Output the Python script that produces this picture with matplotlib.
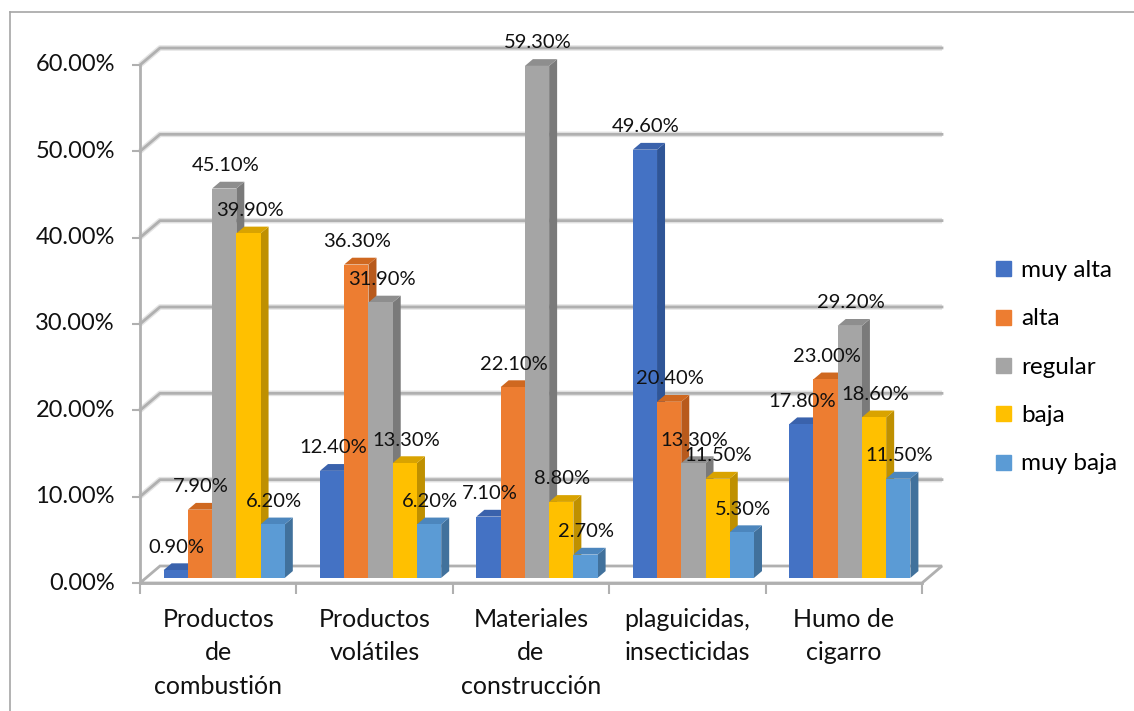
import numpy as np
import matplotlib.pyplot as plt
from matplotlib.patches import Polygon
from matplotlib.lines import Line2D
from matplotlib import markers

plt.rcParams['font.family'] = ['Lato', 'DejaVu Sans']

# --- data ---
categories = ["Productos\nde\ncombustión", "Productos\nvolátiles",
              "Materiales\nde\nconstrucción", "plaguicidas,\ninsecticidas",
              "Humo de\ncigarro"]
series_names = ["muy alta", "alta", "regular", "baja", "muy baja"]
muy_alta = [0.9, 12.4, 7.1, 49.6, 17.8]
alta = [7.9, 36.3, 22.1, 20.4, 23.0]
regular = [45.1, 31.9, 59.3, 13.3, 29.2]
baja = [39.9, 13.3, 8.8, 11.5, 18.6]
muy_baja = [6.2, 6.2, 2.7, 5.3, 11.5]
y_ticks = [0, 10, 20, 30, 40, 50, 60]

series = [muy_alta, alta, regular, baja, muy_baja]
front_colors = ['#4472C4', '#ED7D31', '#A5A5A5', '#FFC000', '#5B9BD5']
side_colors = ['#2F5597', '#B85A1C', '#7A7A7A', '#BF9000', '#41719C']
top_colors = ['#3A62AC', '#CF6820', '#8E8E8E', '#D9A300', '#4C86BD']

GRID = '#B0B0B0'
TEXT = '#111111'
DEPTH_PX = (20, 17)      # perspective offset of the back wall
BAR_FRONT, BAR_BACK = 0.3, 0.7
BAR_W = 0.155

fig = plt.figure(figsize=(11.34, 7.11), dpi=100)
ax = fig.add_axes([140 / 1134, 128 / 711, 782 / 1134, 518 / 711])
ax.set_xlim(0, len(categories))
ax.set_ylim(0, 60)
ax.axis('off')

# depth vector in data units
px_x = ax.bbox.width / len(categories)
px_y = ax.bbox.height / 60
ddx, ddy = DEPTH_PX[0] / px_x, DEPTH_PX[1] / px_y
n_cat = len(categories)

# floor
floor = Polygon([(0, 0), (n_cat, 0), (n_cat + ddx, ddy), (ddx, ddy)],
                closed=True, facecolor='white', edgecolor=GRID, lw=2,
                clip_on=False, zorder=1)
ax.add_patch(floor)

# back wall gridlines with the left wall diagonals
for v in y_ticks[1:]:
    ax.plot([0, ddx, n_cat + ddx], [v, v + ddy, v + ddy], color='#E3E3E3',
            lw=4, clip_on=False, zorder=0.5, solid_capstyle='butt')
    ax.plot([0, ddx, n_cat + ddx], [v, v + ddy, v + ddy], color=GRID,
            lw=2, clip_on=False, zorder=1)

# front axes
ax.plot([0, 0], [0, 60], color=GRID, lw=2, clip_on=False, zorder=1)
ax.plot([0, n_cat], [0, 0], color=GRID, lw=2, clip_on=False, zorder=1)
ax.plot([0] * len(y_ticks), y_ticks, ls='none', marker=markers.TICKLEFT,
        markersize=6, mew=1.5, color=GRID, clip_on=False)
ax.plot(np.arange(n_cat + 1), [0] * (n_cat + 1), ls='none',
        marker=markers.TICKDOWN, markersize=8, mew=1.5, color=GRID,
        clip_on=False)

for v in y_ticks:
    ax.annotate(f"{v:.2f}%", (0, v), xytext=(-25, 0), textcoords='offset pixels',
                ha='right', va='center', fontsize=17, color=TEXT)

for c, name in enumerate(categories):
    ax.annotate(name, (c + 0.5, 0), xytext=(0, -25), textcoords='offset pixels',
                ha='center', va='top', fontsize=18, color=TEXT,
                linespacing=1.55)

# 3D-looking bars
gap = (1 - len(series) * BAR_W) / 2
fx, fy = BAR_FRONT * ddx, BAR_FRONT * ddy
bx, by = BAR_BACK * ddx, BAR_BACK * ddy
z = 2
for c in range(n_cat):
    for i, vals in enumerate(series):
        h = vals[c]
        x0 = c + gap + i * BAR_W + fx
        x1 = x0 + BAR_W
        sx, sy = bx - fx, by - fy
        front = Polygon([(x0, fy), (x1, fy), (x1, h + fy), (x0, h + fy)],
                        facecolor=front_colors[i], edgecolor='none',
                        clip_on=False, zorder=z)
        side = Polygon([(x1, fy), (x1 + sx, fy + sy), (x1 + sx, h + fy + sy),
                        (x1, h + fy)],
                       facecolor=side_colors[i], edgecolor='none',
                       clip_on=False, zorder=z)
        top = Polygon([(x0, h + fy), (x1, h + fy), (x1 + sx, h + fy + sy),
                       (x0 + sx, h + fy + sy)],
                      facecolor=top_colors[i], edgecolor='none',
                      clip_on=False, zorder=z)
        ax.add_patch(side)
        ax.add_patch(top)
        ax.add_patch(front)
        z += 0.01

# data labels
for c in range(n_cat):
    for i, vals in enumerate(series):
        h = vals[c]
        xc = c + gap + i * BAR_W + fx + BAR_W / 2
        ax.annotate(f"{h:.2f}%", (xc, h + fy), xytext=(1, 23),
                    textcoords='offset pixels', ha='center', va='center',
                    fontsize=14.5, color=TEXT, zorder=10)

# legend
handles = [Line2D([], [], ls='none', marker='s', markersize=10.8, color=col)
           for col in front_colors]
fig.legend(handles, series_names, loc='center left',
           bbox_to_anchor=(993 / 1134, 1 - 367 / 711), frameon=False,
           fontsize=17.5, handlelength=0.8, handletextpad=0.35,
           labelspacing=1.13, borderpad=0, borderaxespad=0)

# chart frame
fig.add_artist(Line2D([10 / 1134, 1], [1 - 12 / 711, 1 - 12 / 711],
                      transform=fig.transFigure, color='#A6A6A6', lw=1.2))
fig.add_artist(Line2D([10 / 1134, 10 / 1134], [0, 1 - 12 / 711],
                      transform=fig.transFigure, color='#A6A6A6', lw=1.2))

fig.savefig('out.png', dpi=100, facecolor='white')
